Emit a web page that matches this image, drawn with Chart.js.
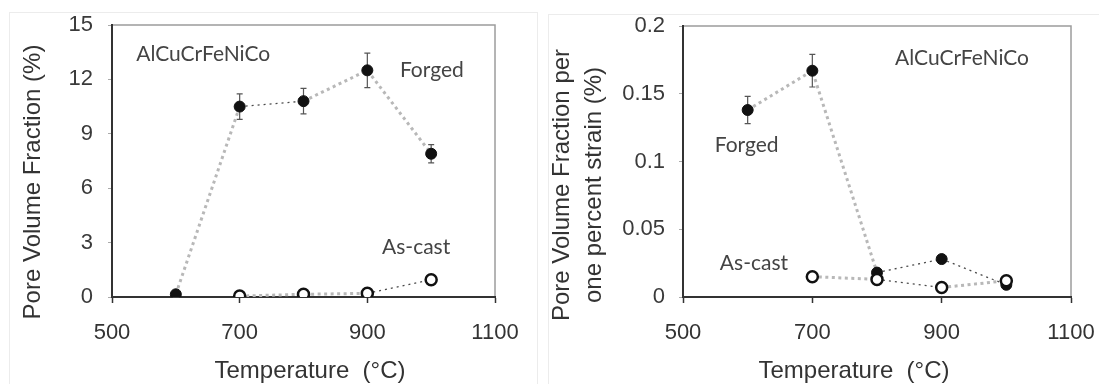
<!DOCTYPE html>
<html>
<head>
<meta charset="utf-8">
<script src="https://cdn.jsdelivr.net/npm/chart.js@4.4.1/dist/chart.umd.min.js"></script>
<style>
  body { margin: 0; background: #fff; }
  #wrap { position: relative; width: 1099px; height: 384px; overflow: hidden; }
  .panel { position: absolute; top: 0; height: 384px; }
  #left { left: 0; width: 545px; }
  #right { left: 545px; width: 554px; }
  .edge { position: absolute; border: 1px solid #ececec; }
</style>
</head>
<body>
<div id="wrap">
  <div class="edge" style="left:9px;top:12px;width:527px;height:380px;border-bottom:none"></div>
  <div class="edge" style="left:548px;top:14px;width:560px;height:380px;border-right:none;border-bottom:none"></div>
  <div class="panel" id="left"><canvas id="chartLeft" width="545" height="384"></canvas></div>
  <div class="panel" id="right"><canvas id="chartRight" width="554" height="384"></canvas></div>
</div>
<script>
// temperatures (°C)
const forgedTemps = [600, 700, 800, 900, 1000];
const castTemps = [700, 800, 900, 1000];

// left panel: pore volume fraction (%)
const forgedPore = [0.15, 10.5, 10.8, 12.5, 7.9];
const forgedPoreErr = [0.15, 0.7, 0.7, 0.95, 0.5];
const castPore = [0.05, 0.15, 0.2, 0.95];

// right panel: pore volume fraction per one percent strain (%)
const forgedStrain = [0.138, 0.167, 0.018, 0.028, 0.009];
const forgedStrainErr = [0.01, 0.012, 0, 0, 0];
const castStrain = [0.015, 0.013, 0.007, 0.012];

const xTickLabels = ['500', '700', '900', '1100'];
const yTickLabelsLeft = ['0', '3', '6', '9', '12', '15'];
const yTickLabelsRight = ['0', '0.05', '0.1', '0.15', '0.2'];

// line look per segment: g = thick grey dots, d = thin dark dots
const segLeftForged = ['g', 'd', 'g', 'g'];
const segLeftCast = ['g', 'g', 'd'];
const segRightForged = ['g', 'g', 'd', 'd'];
const segRightCast = ['g', 'd', 'g'];

Chart.defaults.font.family = '"Liberation Sans", Arial, sans-serif';

function segStyle(kinds) {
    return {
        borderColor: c => kinds[c.p0DataIndex] === 'd' ? '#4a4a4a' : '#b8b8b8',
        borderWidth: c => kinds[c.p0DataIndex] === 'd' ? 1.3 : 3,
        borderDash: c => kinds[c.p0DataIndex] === 'd' ? [2, 4] : [3, 3.5]
    };
}

function toPoints(xs, ys) {
    return xs.map((t, i) => ({x: t, y: ys[i]}));
}

// light grey box round the plot, the axes are drawn over it
const framePlugin = {
    id: 'frame',
    beforeDraw(chart) {
        const {ctx, chartArea: a} = chart;
        ctx.save();
        ctx.strokeStyle = '#9c9c9c';
        ctx.lineWidth = 1.5;
        ctx.strokeRect(a.left, a.top, a.right - a.left, a.bottom - a.top);
        ctx.restore();
    }
};

const errorBarPlugin = {
    id: 'errorBars',
    beforeDatasetsDraw(chart) {
        const {ctx, scales: {y}} = chart;
        chart.data.datasets.forEach((ds, i) => {
            if (!ds.errors) return;
            const meta = chart.getDatasetMeta(i);
            ctx.save();
            ctx.strokeStyle = '#555';
            ctx.lineWidth = 1.2;
            meta.data.forEach((pt, j) => {
                const e = ds.errors[j];
                if (!e) return;
                const v = ds.data[j].y;
                const top = y.getPixelForValue(v + e);
                const bot = y.getPixelForValue(v - e);
                ctx.beginPath();
                ctx.moveTo(pt.x, top); ctx.lineTo(pt.x, bot);
                ctx.moveTo(pt.x - 3, top); ctx.lineTo(pt.x + 3, top);
                ctx.moveTo(pt.x - 3, bot); ctx.lineTo(pt.x + 3, bot);
                ctx.stroke();
            });
            ctx.restore();
        });
    }
};

// in-plot notes (placed in data units) and the axis titles
const textPlugin = {
    id: 'texts',
    afterDraw(chart, args, opts) {
        const {ctx, scales: {x, y}} = chart;
        ctx.save();
        ctx.fillStyle = '#444';
        ctx.textBaseline = 'middle';
        ctx.textAlign = 'left';
        ctx.font = '21px Lato, "Open Sans", sans-serif';
        opts.notes.forEach(n => {
            ctx.fillText(n.text, x.getPixelForValue(n.x), y.getPixelForValue(n.y));
        });

        ctx.fillStyle = '#333';
        ctx.font = '24px "Liberation Sans", Arial, sans-serif';
        ctx.textAlign = 'center';
        ctx.fillText(opts.xTitle, opts.xTitleAt[0], opts.xTitleAt[1]);

        ctx.translate(opts.yTitleAt[0], opts.yTitleAt[1]);
        ctx.rotate(-Math.PI / 2);
        opts.yTitle.forEach((line, i) => {
            ctx.fillText(line, 0, i * opts.yTitleGap);
        });
        ctx.restore();
    }
};

function makeChart(id, cfg) {
    const ctx = document.getElementById(id).getContext('2d');
    return new Chart(ctx, {
        type: 'line',
        data: {
            datasets: [
                {
                    label: 'As-cast',
                    data: toPoints(castTemps, cfg.cast),
                    borderColor: '#b8b8b8',
                    segment: segStyle(cfg.castSeg),
                    pointRadius: 5.5,
                    pointBackgroundColor: '#fff',
                    pointBorderColor: '#111',
                    pointBorderWidth: 2.5,
                    fill: false
                },
                {
                    label: 'Forged',
                    data: toPoints(forgedTemps, cfg.forged),
                    errors: cfg.forgedErr,
                    borderColor: '#b8b8b8',
                    segment: segStyle(cfg.forgedSeg),
                    pointRadius: 5.5,
                    pointBackgroundColor: '#111',
                    pointBorderColor: '#111',
                    pointBorderWidth: 1,
                    fill: false
                }
            ]
        },
        options: {
            responsive: false,
            animation: false,
            layout: {padding: {top: cfg.padTop, right: cfg.padRight, left: 0, bottom: 0}},
            plugins: {
                legend: {display: false},
                tooltip: {enabled: false},
                texts: {
                    notes: cfg.notes,
                    xTitle: 'Temperature  (°C)',
                    xTitleAt: cfg.xTitleAt,
                    yTitle: cfg.yTitle,
                    yTitleAt: cfg.yTitleAt,
                    yTitleGap: 32
                }
            },
            scales: {
                x: {
                    type: 'linear',
                    min: 500,
                    max: 1100,
                    ticks: {
                        stepSize: 200,
                        padding: 17,
                        color: '#333',
                        font: {size: 22},
                        callback: (v, i) => xTickLabels[i]
                    },
                    grid: {drawOnChartArea: false, tickLength: 6, tickColor: '#333', tickWidth: 1.5},
                    border: {color: '#333', width: 2},
                    afterFit: s => {
                        s.height = 87;
                        // let the layout padding alone decide the plot edges
                        s.paddingLeft = 0;
                        s.paddingRight = 0;
                    }
                },
                y: {
                    min: 0,
                    max: cfg.yMax,
                    ticks: {
                        stepSize: cfg.yStep,
                        padding: cfg.yPad,
                        color: '#3a3a3a',
                        font: {size: 22},
                        callback: (v, i) => cfg.yLabels[i]
                    },
                    grid: {drawOnChartArea: false, tickLength: 4, tickColor: '#aaa'},
                    border: {color: '#333', width: 2},
                    afterFit: s => {
                        s.width = cfg.yWidth;
                        s.paddingTop = 0;
                        s.paddingBottom = 0;
                    }
                }
            }
        },
        plugins: [framePlugin, errorBarPlugin, textPlugin]
    });
}

makeChart('chartLeft', {
    forged: forgedPore,
    forgedErr: forgedPoreErr,
    cast: castPore,
    forgedSeg: segLeftForged,
    castSeg: segLeftCast,
    yMax: 15,
    yStep: 3,
    yLabels: yTickLabelsLeft,
    yPad: 15,
    yWidth: 112,
    padTop: 25,
    padRight: 50,
    notes: [
        {text: 'AlCuCrFeNiCo', x: 538, y: 13.4},
        {text: 'Forged', x: 951, y: 12.5},
        {text: 'As-cast', x: 923, y: 2.73}
    ],
    xTitleAt: [310, 371],
    yTitle: ['Pore Volume Fraction (%)'],
    yTitleAt: [33, 182]
});

makeChart('chartRight', {
    forged: forgedStrain,
    forgedErr: forgedStrainErr,
    cast: castStrain,
    forgedSeg: segRightForged,
    castSeg: segRightCast,
    yMax: 0.2,
    yStep: 0.05,
    yLabels: yTickLabelsRight,
    yPad: 14,
    yWidth: 138,
    padTop: 26,
    padRight: 28,
    notes: [
        {text: 'AlCuCrFeNiCo', x: 828, y: 0.1764},
        {text: 'Forged', x: 549, y: 0.1122},
        {text: 'As-cast', x: 557, y: 0.0247}
    ],
    xTitleAt: [309, 371],
    yTitle: ['Pore Volume Fraction per', 'one percent strain (%)'],
    yTitleAt: [17, 185]
});
</script>
</body>
</html>
